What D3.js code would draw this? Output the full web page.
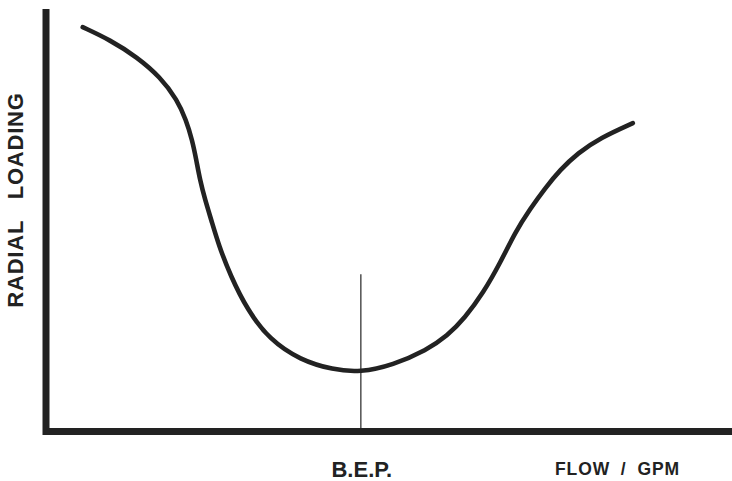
<!DOCTYPE html>
<html>
<head>
<meta charset="utf-8">
<script src="https://cdn.jsdelivr.net/npm/d3@7/dist/d3.min.js"></script>
<style>
  html, body { margin: 0; padding: 0; background: #fff; }
  svg { display: block; }
  text { font-family: "Liberation Sans", Arial, Helvetica, sans-serif; font-weight: bold; fill: #222; }
</style>
</head>
<body>
<svg id="chart" width="732" height="481"></svg>
<script>
// Flow (% of range) along the pump curve
const flow = [5.4, 9.4, 13.4, 16.8, 19.3, 20.6, 21.5, 22.1, 22.65, 23.4, 24.3, 25.4, 27.1, 29.6, 32.9,
              37.4, 42.2, 46.2, 51.0, 56.0, 59.0, 61.6, 64.3, 66.8, 69.0, 71.2, 73.4, 75.6,
              78.2, 81.5, 86.3];
// Radial loading (relative) at each flow
const loading = [95.7, 92.7, 88.6, 83.9, 78.5, 73.7, 69.0, 64.3, 59.5, 54.8, 50.1, 44.1, 37.0, 28.8, 21.7,
                 16.9, 14.6, 14.0, 15.7, 19.3, 22.6, 26.9, 32.8, 39.9, 47.2, 52.7, 57.6, 61.9,
                 65.9, 69.5, 73.0];
// Best efficiency point marker
const bepFlow = [46.3];
const bepHeight = [37.2];
const yLabel = "RADIAL LOADING";
const xLabel = "FLOW / GPM";
const bepLabel = "B.E.P.";

const svg = d3.select("#chart");
const x = d3.scaleLinear().domain([0, 100]).range([46, 726]);
const y = d3.scaleLinear().domain([0, 100]).range([431.5, 9]);

// BEP vertical marker
svg.append("line")
  .attr("x1", x(bepFlow[0])).attr("x2", x(bepFlow[0]))
  .attr("y1", y(bepHeight[0])).attr("y2", y(0))
  .attr("stroke", "#444").attr("stroke-width", 1.4);

// Radial loading curve
const pts = flow.map((f, i) => [f, loading[i]]);
svg.append("path")
  .datum(pts)
  .attr("fill", "none")
  .attr("stroke", "#222")
  .attr("stroke-width", 4.6)
  .attr("stroke-linecap", "round")
  .attr("d", d3.line().x(d => x(d[0])).y(d => y(d[1])).curve(d3.curveBasis));

// Axes (L-shaped frame)
svg.append("path")
  .attr("d", `M${x(0)},${y(100)} L${x(0)},${y(0)} L732,${y(0)}`)
  .attr("fill", "none")
  .attr("stroke", "#222")
  .attr("stroke-width", 7)
  .attr("stroke-linejoin", "miter");

// Y axis title, read bottom to top
svg.append("text")
  .attr("transform", "translate(22.5, 200) rotate(-90)")
  .attr("text-anchor", "middle")
  .attr("font-size", 22)
  .style("letter-spacing", "0.8px")
  .style("word-spacing", "14px")
  .text(yLabel);

// X axis title
svg.append("text")
  .attr("x", 555).attr("y", 475)
  .attr("font-size", 17.5)
  .style("letter-spacing", "0.9px")
  .style("word-spacing", "5px")
  .text(xLabel);

// BEP label
svg.append("text")
  .attr("x", x(bepFlow[0]) + 1).attr("y", 476.5)
  .attr("text-anchor", "middle")
  .attr("font-size", 22)
  .text(bepLabel);
</script>
</body>
</html>
